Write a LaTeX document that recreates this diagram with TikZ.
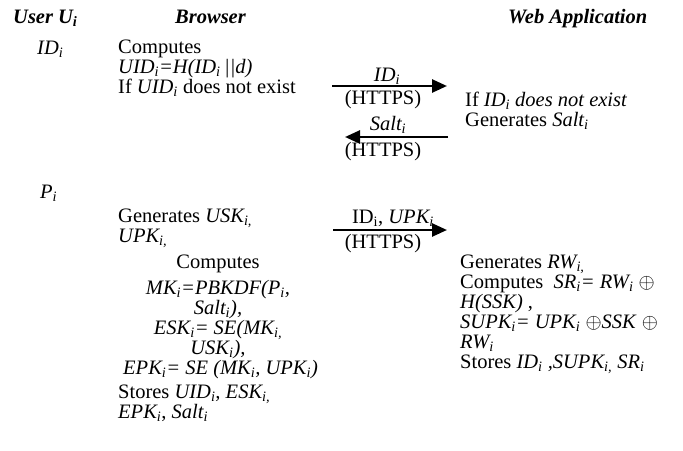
\documentclass[tikz,border=0pt]{standalone}
\usepackage{fontspec}
\setmainfont{Liberation Serif}
\usetikzlibrary{arrows.meta,positioning}
\newcommand{\idx}{\textsubscript{i}}
\newcommand{\bi}[1]{\textbf{\textit{#1}}}
\tikzset{
  txt/.style={
    inner sep=0pt,
    align=left,
    anchor=base west,
    font=\fontsize{20.5}{20}\selectfont
  },
  ctxt/.style={
    txt,
    align=center,
    anchor=base
  },
  block/.style={
    txt,
    anchor=north west
  },
  cblock/.style={
    txt,
    align=center,
    anchor=north
  },
  msg/.style={
    -{Triangle[length=15pt,width=13pt]},
    line width=2.6pt,
    black
  }
}
\begin{document}
\begin{tikzpicture}[x=1pt,y=-1pt]
\useasboundingbox (0,0) rectangle (683,450);
% headers
\node[txt] (user) at (13,23) {\bi{User U\idx}};
\node[txt] (browser) at (175,23) {\bi{Browser}};
\node[txt] (webapp) at (508,23) {\bi{Web Application}};
% registration of the identity
\node[txt] (id) at (37,54) {\textit{ID\idx}};
\node[block] (uid) at (118,40) {Computes\\
  \textit{UID\idx=H(ID\idx\,||d)}\\
  If \textit{UID\idx} does not exist};
\coordinate (s1) at (332,86);
\coordinate (e1) at (447,86);
\draw[msg] (s1) -- (e1);
\node[ctxt] (l1) at (387,81) {\textit{ID\idx}};
\node[ctxt] (h1) at (383,104) {(HTTPS)};
\node[block] (check) at (465,92) {If \textit{ID\idx\ does not exist}\\
  Generates \textit{Salt\idx}};
\coordinate (s2) at (448,137);
\coordinate (e2) at (345,137);
\draw[msg] (s2) -- (e2);
\node[ctxt] (l2) at (388,130) {\textit{Salt\idx}};
\node[ctxt] (h2) at (383,156) {(HTTPS)};
% password and keys
\node[txt] (pw) at (40,198) {\textit{P\idx}};
\node[block] (gen) at (118,209) {Generates \textit{USK\textsubscript{i,}}\\
  \textit{UPK\textsubscript{i,}}};
\coordinate (s3) at (333,230);
\coordinate (e3) at (447,230);
\draw[msg] (s3) -- (e3);
\node[ctxt] (l3) at (393,223) {ID\textsubscript{\upshape i}, \textit{UPK\idx}};
\node[ctxt] (h3) at (383,248) {(HTTPS)};
\node[cblock] (comp) at (218,255) {Computes\\[6pt]
  \textit{MK\idx=PBKDF(P\textsubscript{i},}\\
  \textit{Salt\idx),}\\
  \textit{ESK\idx= SE(MK\textsubscript{i,}}\\
  \textit{USK\idx),}\\
  \ \textit{EPK\idx= SE (MK\idx, UPK\idx)}};
\node[block] (store) at (118,385) {Stores \textit{UID\textsubscript{i},} \textit{ESK\textsubscript{i,}}\\
  \textit{EPK\idx}, \textit{Salt\idx}};
\node[block] (srv) at (460,255) {Generates \textit{RW\textsubscript{i,}}\\
  Computes \ \textit{SR\idx= RW\idx} $\oplus$\\
  \textit{H(SSK)} ,\\
  \textit{SUPK\idx= UPK\idx} $\oplus$\textit{SSK} $\oplus$\\
  \textit{RW\idx}\\
  Stores \textit{ID\idx\ ,SUPK\textsubscript{i,} SR\idx}};
\end{tikzpicture}
\end{document}
